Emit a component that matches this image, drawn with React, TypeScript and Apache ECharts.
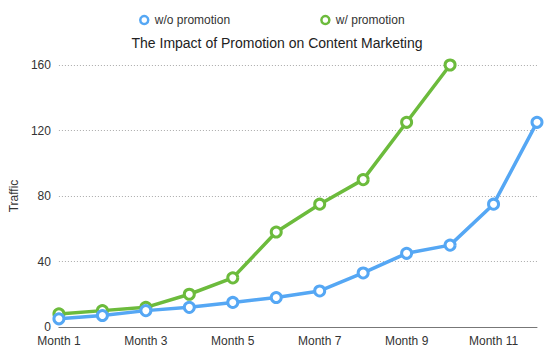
import React, { useEffect, useRef } from "react";
import * as echarts from "echarts";

const months = ["Month 1", "Month 2", "Month 3", "Month 4", "Month 5", "Month 6", "Month 7", "Month 8", "Month 9", "Month 10", "Month 11", "Month 12"];
const withoutPromotion = [5, 7, 10, 12, 15, 18, 22, 33, 45, 50, 75, 125];
const withPromotion = [8, 10, 12, 20, 30, 58, 75, 90, 125, 160];
const yTicks = { min: 0, max: 160, interval: 40 };

const FONT = "'Liberation Sans', Arial, sans-serif";
const BLUE = "#55a7f4";
const GREEN = "#6cbb3c";

export default function App() {
  const ref = useRef<HTMLDivElement>(null);
  useEffect(() => {
    const chart = echarts.init(ref.current!, null, { renderer: "svg" });
    chart.setOption({
      animation: false,
      textStyle: { fontFamily: FONT },
      title: {
        text: "The Impact of Promotion on Content Marketing",
        left: "center",
        top: 31,
        textStyle: { fontSize: 14, fontWeight: "normal", color: "#222", fontFamily: FONT },
      },
      legend: {
        top: 9,
        left: 134,
        itemGap: 90,
        itemWidth: 11,
        itemHeight: 8,
        textStyle: { fontSize: 12, color: "#333", fontFamily: FONT },
        data: [
          { name: "w/o promotion", icon: "circle", itemStyle: { color: "#fff", borderColor: BLUE, borderWidth: 2.5 } },
          { name: "w/ promotion", icon: "circle", itemStyle: { color: "#fff", borderColor: GREEN, borderWidth: 2.5 } },
        ],
      },
      grid: { left: 48, right: 17, top: 65, bottom: 28, containLabel: false },
      xAxis: {
        type: "category",
        data: months,
        boundaryGap: false,
        axisLine: { lineStyle: { color: "#777", width: 1 } },
        axisTick: { show: false },
        axisLabel: { interval: 1, color: "#333", fontSize: 12, margin: 8, fontFamily: FONT },
      },
      yAxis: {
        type: "value",
        min: yTicks.min,
        max: yTicks.max,
        interval: yTicks.interval,
        name: "Traffic",
        nameLocation: "middle",
        nameGap: 37,
        nameTextStyle: { color: "#333", fontSize: 12, fontFamily: FONT },
        axisLine: { show: false },
        axisTick: { show: false },
        axisLabel: { color: "#333", fontSize: 12, margin: 8, fontFamily: FONT },
        splitLine: { lineStyle: { type: [1, 2], color: "#aaa", width: 1 } },
      },
      series: [
        {
          name: "w/o promotion",
          type: "line",
          data: withoutPromotion,
          symbol: "circle",
          symbolSize: 10,
          color: BLUE,
          lineStyle: { width: 3.5, color: BLUE },
          itemStyle: { color: "#fff", borderColor: BLUE, borderWidth: 3 },
          z: 3,
        },
        {
          name: "w/ promotion",
          type: "line",
          data: withPromotion,
          symbol: "circle",
          symbolSize: 10,
          color: GREEN,
          lineStyle: { width: 3.5, color: GREEN },
          itemStyle: { color: "#fff", borderColor: GREEN, borderWidth: 3 },
          z: 2,
        },
      ],
    });
    return () => chart.dispose();
  }, []);
  return <div ref={ref} style={{ width: 554, height: 355, position: "absolute", left: 0, top: 0, background: "#fff" }} />;
}
